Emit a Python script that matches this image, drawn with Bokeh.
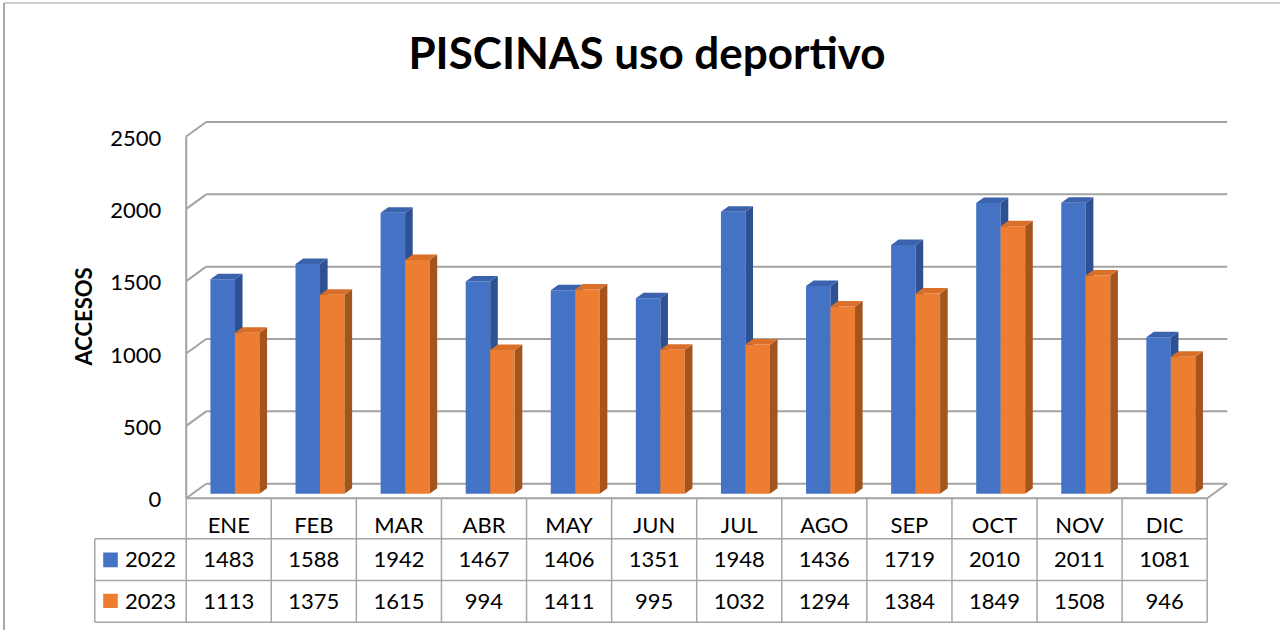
import numpy as np
from bokeh.plotting import figure
from bokeh.models import Range1d
from bokeh.core.properties import value
from bokeh.embed import file_html
from bokeh.resources import INLINE

# ---------------- data ----------------
months = ["ENE", "FEB", "MAR", "ABR", "MAY", "JUN", "JUL", "AGO", "SEP", "OCT", "NOV", "DIC"]
series_names = ["2022", "2023"]
v2022 = [1483, 1588, 1942, 1467, 1406, 1351, 1948, 1436, 1719, 2010, 2011, 1081]
v2023 = [1113, 1375, 1615, 994, 1411, 995, 1032, 1294, 1384, 1849, 1508, 946]
y_ticks = [0, 500, 1000, 1500, 2000, 2500]
title_text = "PISCINAS uso deportivo"
y_label = "ACCESOS"

# ---------------- layout helpers ----------------
W, H = 1280, 630
OFF = 0                       # canvas starts at page origin
AX_X = 185.7                  # front value-axis position (reference px)
CAT_PX = (1206.7 - 185.7) / len(months)
Y0 = 497.7                    # front zero line (reference px)
PX_PER_UNIT = 361.7 / 2500.0


def X(px):
    return (px - AX_X) / CAT_PX


def Y(py):
    return (Y0 - py) / PX_PER_UNIT


DX = 20.0 / CAT_PX            # depth of the 3D box
DY = 14.5 / PX_PER_UNIT
F0, F1 = 0.31, 0.69           # bar depth span within the box
BW = 24.5 / CAT_PX            # bar width in category units

FONT = value("Lato")
GRID = "#a3a3a3"
TABLE = "#a6a6a6"

p = figure(width=W, height=H, title=None,
           x_range=Range1d(X(OFF), X(OFF + W)),
           y_range=Range1d(Y(OFF + H), Y(OFF)),
           x_axis_location=None, y_axis_location=None,
           output_backend="svg", toolbar_location=None,
           min_border=0, min_border_left=0, min_border_right=0,
           min_border_top=0, min_border_bottom=0)
p.grid.visible = False
p.outline_line_color = None
p.background_fill_color = "white"
p.border_fill_color = "white"

n = len(months)
yt = np.array(y_ticks, dtype=float)

# outer chart frame (top and left edges visible in the reference)
p.segment(x0=[X(3.5), X(3.5)], y0=[Y(2.5), Y(2.5)], x1=[X(1287), X(3.5)],
          y1=[Y(2.5), Y(640)], line_color="#a0a0a0", line_width=[1.2, 1.8])

# back wall grid lines + left wall diagonals
p.segment(x0=[DX] * len(yt), y0=yt + DY, x1=[n + DX] * len(yt), y1=yt + DY,
          line_color=GRID, line_width=2)
p.segment(x0=[0] * len(yt), y0=yt, x1=[DX] * len(yt), y1=yt + DY,
          line_color=GRID, line_width=2)
# front value axis line, floor front edge and right floor diagonal
p.segment(x0=[0, 0, n], y0=[0, 0, 0], x1=[0, n, n + DX], y1=[y_ticks[-1], 0, DY],
          line_color=GRID, line_width=2)

# ---------------- 3D bars ----------------
styles = [
    ("#4472c4", "#2d5193", "#3a62ad"),
    ("#ed7d31", "#a4541d", "#d96f29"),
]
ddx = (F1 - F0) * DX
ddy = (F1 - F0) * DY
for s, vals in enumerate([v2022, v2023]):
    vals = np.array(vals, dtype=float)
    front_c, side_c, top_c = styles[s]
    xl = np.arange(n) + 0.5 + (s - 1) * BW + F0 * DX
    xr = xl + BW
    yb = np.full(n, F0 * DY)
    ytop = vals + F0 * DY
    p.quad(left=xl, right=xr, bottom=yb, top=ytop, fill_color=front_c,
           line_color=None)
    side_xs = [[a, a + ddx, a + ddx, a] for a in xr]
    side_ys = [[b, b + ddy, t + ddy, t] for b, t in zip(yb, ytop)]
    p.patches(side_xs, side_ys, fill_color=side_c, line_color=None)
    top_xs = [[a, b, b + ddx, a + ddx] for a, b in zip(xl, xr)]
    top_ys = [[t, t, t + ddy, t + ddy] for t in ytop]
    p.patches(top_xs, top_ys, fill_color=top_c, line_color=None)

# ---------------- value axis labels ----------------
p.text(x=[X(160.7)] * len(y_ticks), y=y_ticks, text=[str(t) for t in y_ticks],
       text_font=FONT, text_font_size="22px", text_color="black",
       text_align="right", text_baseline="middle", y_offset=1.5)
p.text(x=[X(83)], y=[Y(316)], text=[y_label], angle=np.pi / 2,
       text_font=FONT, text_font_size="22px", text_font_style="bold",
       text_color="black", text_align="center", text_baseline="middle")

# ---------------- title ----------------
p.text(x=[X(646.5)], y=[Y(51)], text=[title_text], text_font=FONT,
       text_font_size="44px", text_font_style="bold", text_color="black",
       text_align="center", text_baseline="middle")

# ---------------- data table ----------------
r1, r2, r3 = Y(538.3), Y(580.0), Y(621.7)
xleg = X(94.3)
# horizontal rules
p.segment(x0=[xleg] * 3, y0=[r1, r2, r3], x1=[n] * 3, y1=[r1, r2, r3],
          line_color=TABLE, line_width=1.5)
# vertical rules
p.segment(x0=list(range(n + 1)), y0=[0] * (n + 1), x1=list(range(n + 1)),
          y1=[r3] * (n + 1), line_color=TABLE, line_width=1.5)
p.segment(x0=[xleg], y0=[r1], x1=[xleg], y1=[r3], line_color=TABLE, line_width=1.5)

cx = np.arange(n) + 0.5
p.text(x=cx, y=[Y(524)] * n, text=months, text_font=FONT, text_font_size="22px",
       text_color="black", text_align="center", text_baseline="middle")
for vals, rowy in [(v2022, (r1 + r2) / 2), (v2023, (r2 + r3) / 2)]:
    p.text(x=cx, y=[rowy] * n, text=[str(v) for v in vals], text_font=FONT,
           text_font_size="22px", text_color="black", text_align="center",
           text_baseline="middle")

# legend keys inside the table
key_tops = [Y(552.0), Y(593.3)]
key_bots = [Y(566.7), Y(607.6)]
p.quad(left=[X(102.7)] * 2, right=[X(117.3)] * 2, top=key_tops, bottom=key_bots,
       fill_color=[styles[0][0], styles[1][0]], line_color=None)
p.text(x=[X(124.5)] * 2, y=[(r1 + r2) / 2, (r2 + r3) / 2], text=series_names,
       text_font=FONT, text_font_size="22px", text_color="black",
       text_align="left", text_baseline="middle")

open("out.html", "w").write(file_html(p, INLINE))
